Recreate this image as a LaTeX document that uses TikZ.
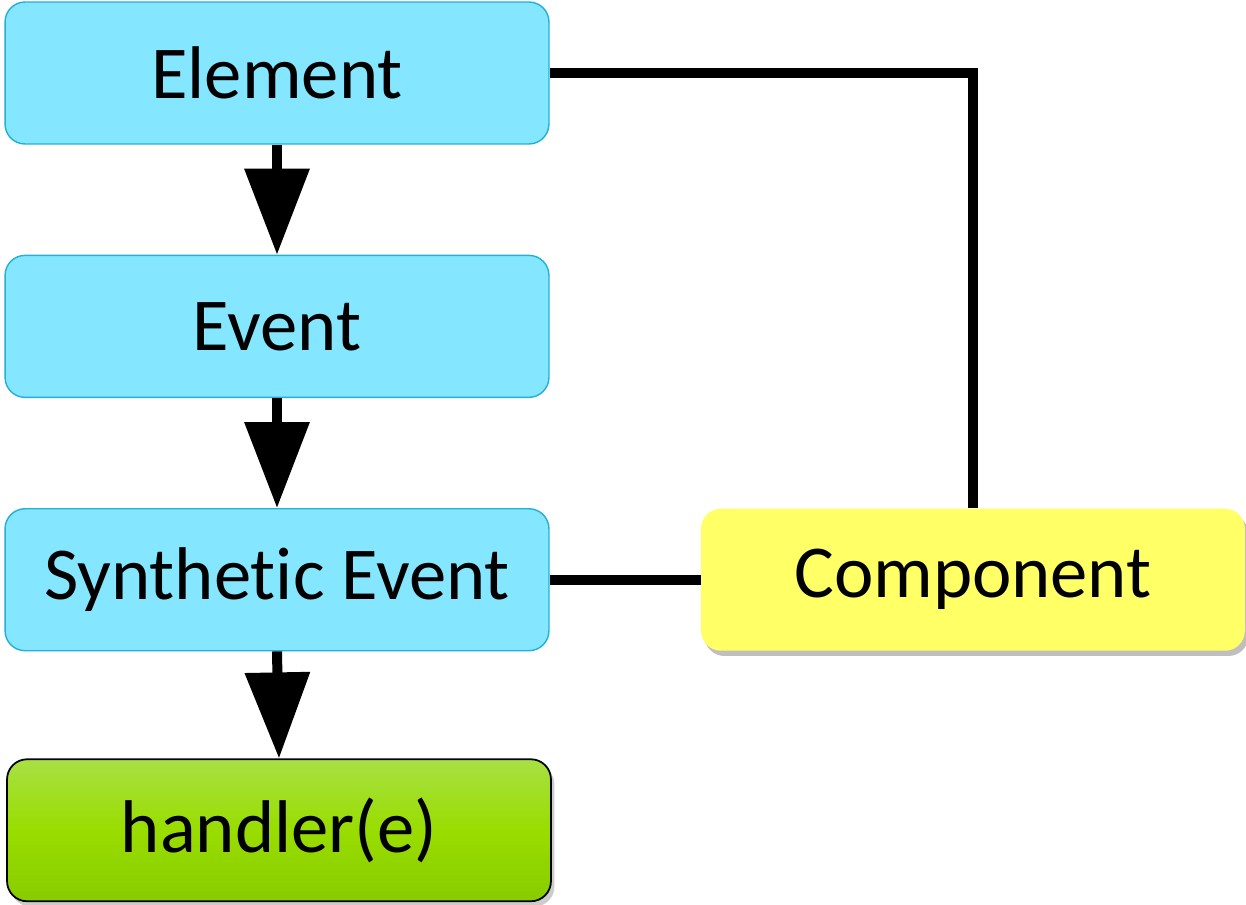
\documentclass[tikz,border=0pt]{standalone}
\usepackage{fontspec}
\setmainfont[Ligatures=NoCommon]{Carlito}
\usepackage{tikz}
\usetikzlibrary{positioning,arrows.meta,shadows}
\definecolor{boxcyan}{HTML}{84E6FF}
\definecolor{edgecyan}{HTML}{22AFD8}
\definecolor{boxyellow}{HTML}{FFFF66}
\definecolor{greentop}{HTML}{A8E044}
\definecolor{greenmid}{HTML}{99DD00}
\definecolor{greenbot}{HTML}{88CC00}

\begin{document}
\begin{tikzpicture}[x=0.02cm,y=-0.02cm,node distance=2.2cm,
  box/.style={rounded corners=0.4cm,minimum width=10.88cm,minimum height=2.84cm,inner sep=0pt,font=\fontsize{42.5}{50}\selectfont},
  evbox/.style={box,fill=boxcyan,draw=edgecyan,line width=0.8pt},
  link/.style={line width=0.2cm},
  flow/.style={link,-{Triangle[length=1.72cm,width=1.26cm]}}]
\useasboundingbox (0,0) rectangle (1246,904);
\node[evbox] (elem) at (277,73) {Element}; \node[evbox,below=of elem] (ev) {Event}; \node[evbox,below=of ev] (synth) {Synthetic Event};
\node[box,below=2.14cm of synth,xshift=0.04cm,draw=black,line width=1pt,top color=greentop,bottom color=greenbot,middle color=greenmid,drop shadow={opacity=0.4,shadow xshift=2pt,shadow yshift=-3pt}] (handler) {handler(e)};
\node[box,right=3.02cm of synth,fill=boxyellow,drop shadow={opacity=0.5,shadow xshift=2pt,shadow yshift=-3pt}] (comp) {Component};
\draw[flow] (elem) -- (ev); \draw[flow] (ev) -- (synth); \draw[flow] (synth.south) -- (handler.north);
\draw[link] (elem.east) -| (comp.north); \draw[link] (synth) -- (comp);
\end{tikzpicture}
\end{document}
